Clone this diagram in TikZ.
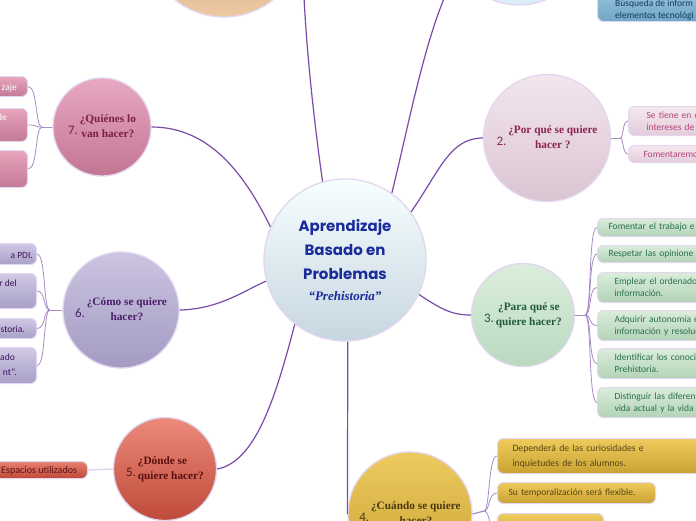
\documentclass[tikz,border=0pt]{standalone}
\usepackage{fontspec}
\setmainfont{Carlito}
\newfontfamily\qfont{Liberation Serif}
\newfontfamily\titlefont{Poppins}
\definecolor{bordc}{HTML}{E2D6F0}
\definecolor{connc}{HTML}{7B4BA8}
\definecolor{thinc}{HTML}{A88BC8}
\newcommand\qlab[3]{\raisebox{-5pt}{\normalfont\fontsize{13}{13}\selectfont #1}\,\begin{tabular}{@{}#2@{}}#3\end{tabular}}
\begin{document}
\begin{tikzpicture}[x=1pt,y=-1pt,
  qnode/.style={circle,draw=bordc,line width=1.3pt,inner sep=0pt,font=\qfont\bfseries\fontsize{11.3}{15}\selectfont},
  mainc/.style={draw=connc,line width=1.2pt},
  thinl/.style={draw=thinc,line width=0.8pt},
  leafbox/.style={rounded corners=6pt,draw=bordc,line width=1pt,inner ysep=0pt,align=left},
  rbox/.style={leafbox,anchor=north west,font=\fontsize{9.5}{12}\selectfont},
  lbox/.style={leafbox,anchor=north east,minimum width=100},
  ltext/.style={inner sep=0pt,font=\fontsize{9.5}{12}\selectfont},
]
\useasboundingbox (0,0) rectangle (696,520);
\fill[white] (0,0) rectangle (696,520);

% ---------- circles ----------
\node[qnode,minimum size=162,top color=white!40!cyan!5,bottom color={rgb,255:red,198;green,214;blue,224},
  font=\titlefont\bfseries\fontsize{15}{24}\selectfont,text={rgb,255:red,26;green,44;blue,156},align=center]
  (c) at (345,260) {Aprendizaje\\Basado en\\Problemas\\[-3pt]{\qfont\itshape\fontsize{13}{16}\selectfont “Prehistoria”}};

\node[qnode,minimum size=156,top color={rgb,255:red,184;green,138;blue,96},bottom color={rgb,255:red,237;green,201;blue,164}] (n8) at (224,-61) {};
\node[qnode,minimum size=140,top color={rgb,255:red,168;green,212;blue,236},bottom color={rgb,255:red,220;green,239;blue,248}] (n1) at (519,-65) {};

\node[qnode,minimum size=98,top color={rgb,255:red,232;green,168;blue,194},bottom color={rgb,255:red,194;green,117;blue,147},text={rgb,255:red,122;green,30;blue,72}]
  (n7) at (102,127) {\qlab{7.}{c}{¿Quiénes lo\\van hacer?}};
\node[qnode,minimum size=127,top color={rgb,255:red,243;green,230;blue,237},bottom color={rgb,255:red,218;green,196;blue,210},text={rgb,255:red,140;green,35;blue,82}]
  (n2) at (547,138) {\qlab{2.}{c}{¿Por qué se quiere\\hacer ?}};
\node[qnode,minimum size=103,top color={rgb,255:red,220;green,238;blue,220},bottom color={rgb,255:red,185;green,217;blue,191},text={rgb,255:red,31;green,90;blue,64}]
  (n3) at (523,315) {\qlab{3.}{c}{¿Para qué se\\quiere hacer?}};
\node[qnode,minimum size=116,top color={rgb,255:red,204;green,196;blue,224},bottom color={rgb,255:red,163;green,155;blue,194},text={rgb,255:red,74;green,30;blue,106}]
  (n6) at (121,310) {\qlab{6.}{c}{¿Cómo se quiere\\hacer?}};
\node[qnode,minimum size=103,top color={rgb,255:red,236;green,138;blue,122},bottom color={rgb,255:red,191;green,74;blue,58},text={rgb,255:red,90;green,16;blue,16}]
  (n5) at (165,469) {\qlab{5.}{l}{¿Dónde se\\quiere hacer?}};
\node[qnode,minimum size=124,top color={rgb,255:red,237;green,203;blue,96},bottom color={rgb,255:red,201;green,162;blue,51},text={rgb,255:red,74;green,56;blue,16}]
  (n4) at (410,514) {\qlab{4.}{c}{¿Cuándo se quiere\\hacer?}};

% ---------- leaves: 1 (blue) ----------
\node[leafbox,anchor=south west,minimum width=140,minimum height=44,
  top color={rgb,255:red,169;green,208;blue,230},bottom color={rgb,255:red,111;green,166;blue,198}]
  (b1) at (597,22) {};
\tikzset{bt/.style={ltext,text={rgb,255:red,20;green,58;blue,92},anchor=base west}}
\node[bt] (b1t) at (615,6) {Búsqueda de inform};
\node[bt] (b1u) at (615,18) {elementos tecnológi};

% ---------- leaves: 2 ----------
\tikzset{qb/.style={rbox,top color={rgb,255:red,245;green,232;blue,239},bottom color={rgb,255:red,226;green,204;blue,218},text={rgb,255:red,181;green,69;blue,122}}}
\node[qb,minimum width=120,minimum height=29,text width=90,inner xsep=18] (q1) at (628,106) {Se tiene en c\\intereses de};
\node[qb,minimum width=120,minimum height=17,text width=90,inner xsep=12] (q2) at (628,145) {Fomentaremo};

% ---------- leaves: 3 ----------
\tikzset{gb/.style={rbox,minimum width=130,top color={rgb,255:red,218;green,237;blue,218},bottom color={rgb,255:red,178;green,211;blue,182},text={rgb,255:red,42;green,112;blue,80}}}
\node[gb,minimum height=18,text width=108,inner xsep=11] (g1) at (597,218) {Fomentar el trabajo e};
\node[gb,minimum height=17,text width=108,inner xsep=11] (g2) at (597,245) {Respetar las opinione};
\node[gb,minimum height=30,text width=96,inner xsep=17] (g3) at (597,272) {Emplear el ordenado\\información.};
\node[gb,minimum height=30,text width=96,inner xsep=17] (g4) at (597,310) {Adquirir autonomía e\\información y resoluc};
\node[gb,minimum height=30,text width=96,inner xsep=17] (g5) at (597,348) {Identificar los conoci\\Prehistoria.};
\node[gb,minimum height=30,text width=96,inner xsep=17] (g6) at (597,387) {Distinguir las diferen\\vida actual y la vida};

% ---------- leaves: 4 ----------
\tikzset{yb/.style={rbox,top color={rgb,255:red,238;green,203;blue,92},bottom color={rgb,255:red,201;green,162;blue,52},text={rgb,255:red,90;green,69;blue,18}}}
\node[yb,minimum width=220,minimum height=35,text width=190,inner xsep=14,font=\fontsize{9.7}{15}\selectfont] (y1) at (497,438) {Dependerá de las curiosidades e\\inquietudes de los alumnos.};
\node[yb,minimum width=158,minimum height=21,text width=136,inner xsep=11] (y2) at (497,482) {Su temporalización será flexible.};
\node[yb,minimum width=106,minimum height=30] (y3) at (497,513) {};

% ---------- leaves: 7 ----------
\tikzset{pb/.style={lbox,top color={rgb,255:red,232;green,164;blue,188},bottom color={rgb,255:red,194;green,122;blue,150}}}
\node[pb,minimum height=20] (p1) at (28,76) {};
\node[pb,minimum height=33] (p2) at (28,108) {};
\node[pb,minimum height=37] (p3) at (28,150) {};
\node[ltext,text=white,anchor=base east] (p1t) at (17,90) {zaje};
\node[ltext,text=white,anchor=base east] (p2t) at (7,120) {de};

% ---------- leaves: 6 ----------
\tikzset{lb/.style={lbox,top color={rgb,255:red,208;green,200;blue,228},bottom color={rgb,255:red,168;green,160;blue,198}}}
\node[lb,minimum height=21] (l1) at (37,243) {};
\node[lb,minimum height=35] (l2) at (37,273) {};
\node[lb,minimum height=20] (l3) at (37,318) {};
\node[lb,minimum height=36] (l4) at (37,347) {};
\tikzset{lt/.style={ltext,text={rgb,255:red,60;green,16;blue,96},anchor=base east}}
\node[lt] (l1t) at (33,258) {a PDI.};
\node[lt] (l2t) at (17,286) {r del};
\node[lt] (l3t) at (25,332) {storia.};
\node[lt] (l4t) at (15,360) {jado};
\node[lt] (l4u) at (17,375) {nt".};

% ---------- leaves: 5 ----------
\node[lbox,minimum width=100,minimum height=17,top color={rgb,255:red,232;green,128;blue,112},bottom color={rgb,255:red,192;green,72;blue,56}] (r1) at (88,461) {};
\node[ltext,font=\fontsize{10.1}{12}\selectfont,text={rgb,255:red,90;green,21;blue,21},anchor=base west] (r1t) at (1,473) {Espacios utilizados};

% ---------- main connectors ----------
\draw[mainc] (c.106) .. controls (314,120) and (302,20) .. (n8.east);
\draw[mainc] (c.55) .. controls (410,120) and (428,20) .. (n1.210);
\draw[mainc] (c.36) .. controls (440,170) and (450,138) .. (n2.west);
\draw[mainc] (c.335) .. controls (445,312) and (455,315) .. (n3.west);
\draw[mainc] (c.272) -- (n4.west);
\draw[mainc] (n5.east) .. controls (255,462) and (275,400) .. (c.232);
\draw[mainc] (n6.east) .. controls (220,309) and (245,290) .. (c.195);
\draw[mainc] (n7.east) .. controls (210,127) and (245,175) .. (c.156);

% ---------- leaf connectors ----------
\coordinate (k1) at (593,-65);
\draw[thinl] (n1.east) -- (k1) .. controls (596,-65) and (590,-1) .. (b1.west);

\coordinate (k2) at (620,138);
\draw[thinl] (n2.east) -- (k2);
\foreach \t in {q1,q2} \draw[thinl] (k2) .. controls (624,138) and (622,0 |- \t.west) .. (\t.west);

\coordinate (k3) at (585,315);
\draw[thinl] (n3.east) -- (k3);
\foreach \t in {g1,g2,g3,g4,g5,g6} \draw[thinl] (k3) .. controls (592,315) and (588,0 |- \t.west) .. (\t.west);

\coordinate (k4) at (484,511);
\draw[thinl,line width=1.2pt] (n4.east) -- (k4);
\foreach \t in {y1,y2,y3} \draw[thinl] (k4) .. controls (490,511) and (488,0 |- \t.west) .. (\t.west);

\coordinate (k7) at (42,127);
\draw[thinl] (n7.west) -- (k7);
\foreach \t in {p1,p2,p3} \draw[thinl] (k7) .. controls (35,127) and (38,0 |- \t.east) .. (\t.east);

\coordinate (k6) at (50,310);
\draw[thinl] (n6.west) -- (k6);
\foreach \t in {l1,l2,l3,l4} \draw[thinl] (k6) .. controls (43,310) and (46,0 |- \t.east) .. (\t.east);

\draw[draw=bordc,line width=1.5pt] (r1.east) -- (n5.west);
\end{tikzpicture}
\end{document}
